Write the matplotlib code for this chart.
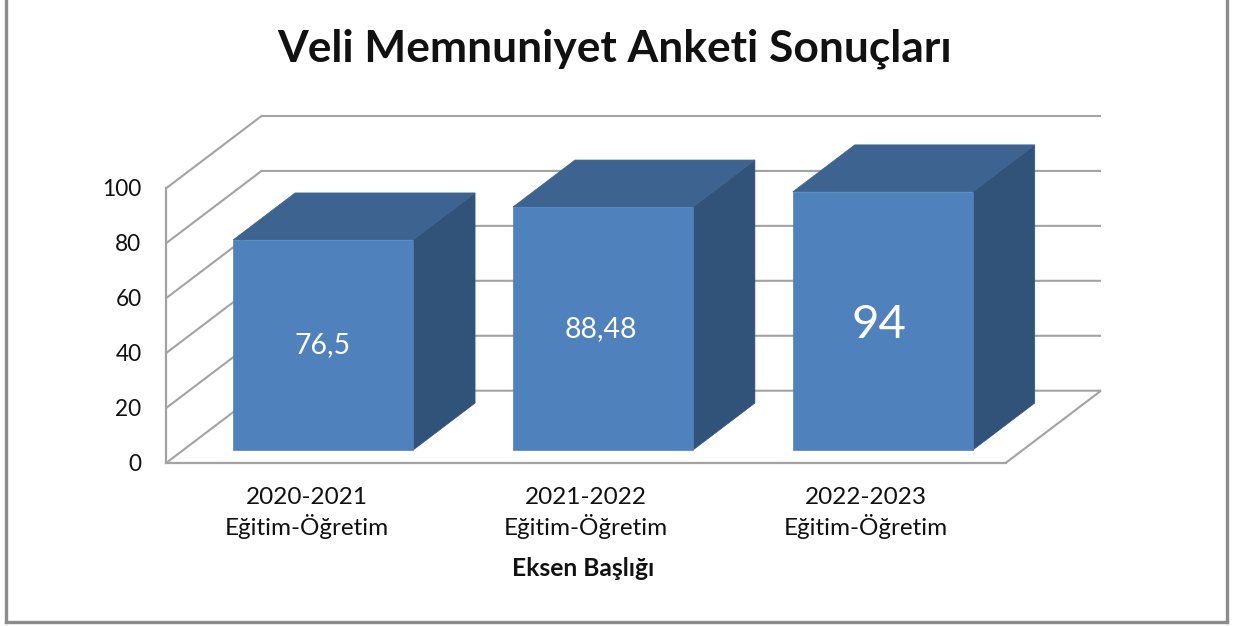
import matplotlib
matplotlib.use('Agg')
import matplotlib.pyplot as plt
from matplotlib.patches import Polygon
from matplotlib.lines import Line2D

plt.rcParams['font.family'] = ['Lato', 'DejaVu Sans']

categories = ['2020-2021\nEğitim-Öğretim', '2021-2022\nEğitim-Öğretim', '2022-2023\nEğitim-Öğretim']
values = [76.5, 88.48, 94]
value_labels = ['76,5', '88,48', '94']
value_sizes = [20.5, 20.5, 34]
label_shift = [1.0, 0.7, 0]
yticks = [0, 20, 40, 60, 80, 100]

W, H = 1238, 626
# on-screen shift of the back wall, in axis units
DX = 95 / 279.8
DY = 72 / 2.747
BAR_W = 0.643
BAR_D0 = 0.175
BAR_D1 = 0.828


def project(x, y, d):
    return (x + d * DX, y + d * DY)


fig = plt.figure(figsize=(W / 100, H / 100), dpi=100)
ax = fig.add_axes([166.5 / W, (H - 462.7) / H, 839.5 / W, 274.7 / H])
ax.set_xlim(0, len(values))
ax.set_ylim(0, 100)
ax.patch.set_visible(False)

grid_c = '#a3a3a3'
for sp in ['top', 'right']:
    ax.spines[sp].set_visible(False)
for sp in ['left', 'bottom']:
    ax.spines[sp].set_color(grid_c)
    ax.spines[sp].set_linewidth(1.6)

n = len(values)
for t in yticks:
    a = project(0, t, 0)
    b = project(0, t, 1)
    c = project(n, t, 1)
    ax.plot([a[0], b[0], c[0]], [a[1], b[1], c[1]], color=grid_c, lw=1.5,
            clip_on=False, zorder=1, solid_joinstyle='miter', solid_capstyle='butt')
# floor, right edge
a = project(n, 0, 0)
b = project(n, 0, 1)
ax.plot([a[0], b[0]], [a[1], b[1]], color=grid_c, lw=1.5, clip_on=False, zorder=1, solid_capstyle='butt')

for i, v in enumerate(values):
    x0 = i + (1 - BAR_W) / 2
    x1 = x0 + BAR_W
    front = [project(x0, 0, BAR_D0), project(x1, 0, BAR_D0), project(x1, v, BAR_D0), project(x0, v, BAR_D0)]
    top = [project(x0, v, BAR_D0), project(x1, v, BAR_D0), project(x1, v, BAR_D1), project(x0, v, BAR_D1)]
    side = [project(x1, 0, BAR_D0), project(x1, 0, BAR_D1), project(x1, v, BAR_D1), project(x1, v, BAR_D0)]
    ax.add_patch(Polygon(side, fc='#315379', ec='#315379', lw=0.5, clip_on=False, zorder=3))
    ax.add_patch(Polygon(top, fc='#3D6390', ec='#3D6390', lw=0.5, clip_on=False, zorder=3))
    ax.add_patch(Polygon(front, fc='#4F81BD', ec='#4F81BD', lw=0.5, clip_on=False, zorder=4))
    cx, cy = project(i + 0.5, v / 2, BAR_D0)
    ax.text(cx - 0.007 * i, cy + label_shift[i], value_labels[i], color='white', fontsize=value_sizes[i],
            ha='center', va='center_baseline', zorder=5)

ax.set_yticks(yticks)
ax.set_yticklabels([str(t) for t in yticks], fontsize=16.3, color='#111111')
ax.set_xticks([i + 0.5 for i in range(n)])
ax.set_xticklabels(categories, fontsize=17.5, color='#111111', linespacing=1.28)
ax.tick_params(axis='y', length=0, pad=18)
ax.tick_params(axis='x', length=0, pad=17.5)
ax.set_xlabel('Eksen Başlığı', fontsize=17.7, fontweight='bold', color='#111111', labelpad=13, x=0.4965)

fig.text(615 / W, 1 - 49 / H, 'Veli Memnuniyet Anketi Sonuçları', fontsize=31.9, fontweight='bold',
         ha='center', va='center', color='#111111')

# outer frame of the chart
frame_c = '#8c8c8c'
for xs, ys in [([5.5, 5.5], [0, 622]), ([5.5, 1227], [622, 622]), ([1227, 1227], [622, 0])]:
    fig.add_artist(Line2D([x / W for x in xs], [1 - y / H for y in ys], color=frame_c, lw=2.4,
                          solid_capstyle='projecting'))

fig.savefig('out.png', dpi=100)
